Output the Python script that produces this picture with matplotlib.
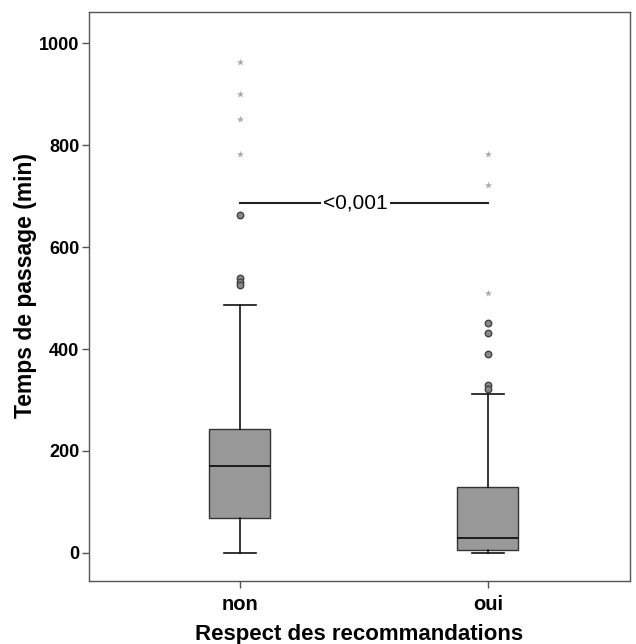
import matplotlib.pyplot as plt

plt.rcParams['font.family'] = ['Liberation Sans', 'DejaVu Sans']

categories = ['non', 'oui']
# box statistics (min)
q1 = [68, 6]
med = [170, 30]
q3 = [243, 129]
whislo = [0, 0]
whishi = [486, 312]
# mild outliers (circles) and extreme outliers (stars)
circles = [[663, 540, 531, 525], [451, 431, 390, 329, 322]]
stars = [[962, 900, 852, 782], [782, 722, 510]]
p_text = '<0,001'
p_level = 686

fig = plt.figure(figsize=(6.36, 6.44), dpi=100)
ax = fig.add_axes([89 / 636, 63 / 644, 541 / 636, 569 / 644])

stats = []
for i, c in enumerate(categories):
    stats.append({'label': c, 'q1': q1[i], 'med': med[i], 'q3': q3[i],
                  'whislo': whislo[i], 'whishi': whishi[i], 'fliers': []})

pos = [1, 2]
ax.bxp(stats, positions=pos, widths=0.246, patch_artist=True, showfliers=False,
       boxprops=dict(facecolor='#999999', edgecolor='#333333', linewidth=1),
       medianprops=dict(color='#111111', linewidth=1.3),
       whiskerprops=dict(color='#111111', linewidth=1.2),
       capprops=dict(color='#111111', linewidth=1.2),
       capwidths=0.13)

for i in range(len(categories)):
    ax.scatter([pos[i]] * len(circles[i]), circles[i], s=22, facecolor='#888888',
               edgecolor='#444444', linewidth=1, zorder=3)
    ax.scatter([pos[i]] * len(stars[i]), stars[i], s=30, marker='*',
               color='#aaaaaa', linewidth=0, zorder=3)

# significance bar, label sits a bit left of the middle
ax.plot(pos, [p_level, p_level], color='#222222', linewidth=1.5, zorder=2)
ax.text(1.465, p_level, p_text, ha='center', va='center', fontsize=15,
        bbox=dict(facecolor='white', edgecolor='none', pad=1.5), zorder=4)

ax.set_xlim(0.391, 2.573)
ax.set_ylim(-55, 1061)
ax.set_xticks(pos)
ax.set_xticklabels(categories, fontsize=14.5, fontweight='bold')
ax.set_yticks([0, 200, 400, 600, 800, 1000])
ax.tick_params(axis='y', labelsize=13, length=5, width=1, color='#555555', pad=2)
ax.tick_params(axis='x', length=5, width=1, color='#555555', pad=5)
for lbl in ax.get_yticklabels():
    lbl.set_fontweight('bold')
for sp in ax.spines.values():
    sp.set_color('#555555')
    sp.set_linewidth(1)

ax.set_xlabel('Respect des recommandations', fontsize=16, fontweight='bold', labelpad=7)
ax.set_ylabel('Temps de passage (min)', fontsize=16.5, fontweight='bold')
ax.yaxis.set_label_coords(-0.096, 0.52)

fig.savefig('out.png', dpi=100)
